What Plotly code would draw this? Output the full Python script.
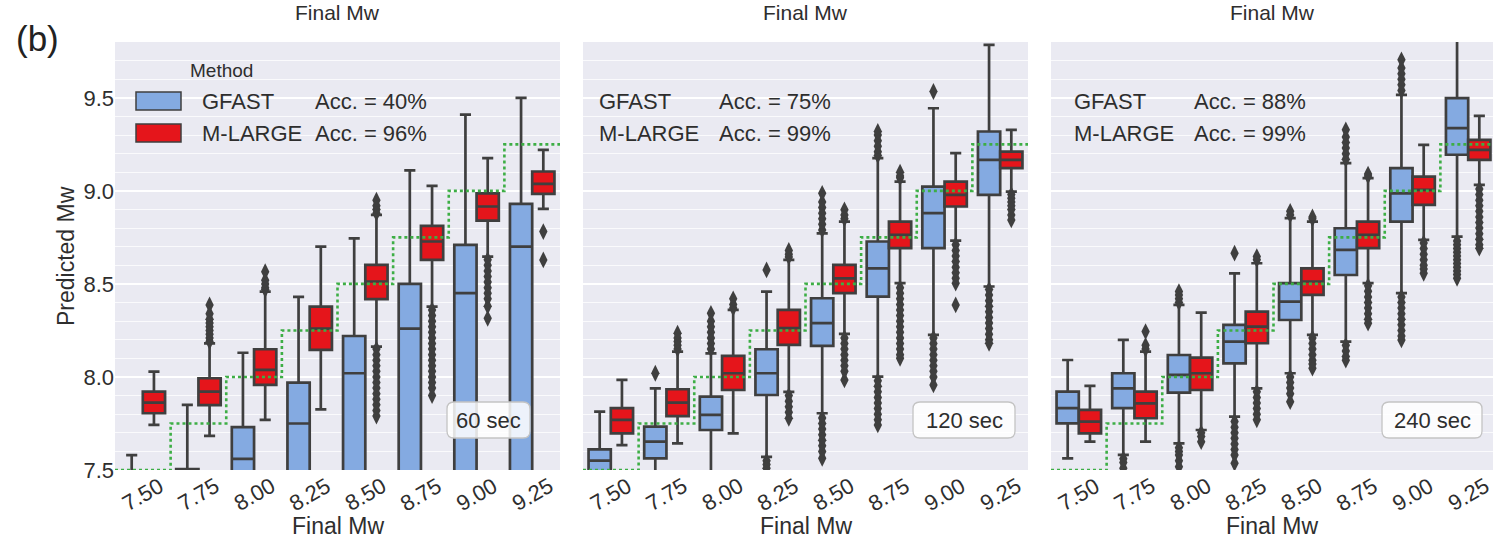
import plotly.graph_objects as go

# ---------------- data ----------------
categories = [7.50, 7.75, 8.00, 8.25, 8.50, 8.75, 9.00, 9.25]
tick_labels = ["7.50", "7.75", "8.00", "8.25", "8.50", "8.75", "9.00", "9.25"]
times = ["60 sec", "120 sec", "240 sec"]
gfast_acc = [40, 75, 88]
mlarge_acc = [96, 99, 99]

# ---- 60 sec ----
g60_q1 = [7.10, 7.20, 7.35, 7.35, 7.40, 7.45, 7.30, 7.40]
g60_med = [7.25, 7.35, 7.56, 7.75, 8.02, 8.26, 8.45, 8.70]
g60_q3 = [7.40, 7.505, 7.73, 7.97, 8.22, 8.50, 8.71, 8.93]
g60_lo = [6.90, 6.90, 7.00, 7.00, 7.00, 7.00, 7.00, 7.20]
g60_hi = [7.58, 7.85, 8.13, 8.43, 8.745, 9.11, 9.41, 9.50]
g60_fl = [[], [], [], [], [], [], [], []]

m60_q1 = [7.805, 7.849, 7.957, 8.145, 8.418, 8.629, 8.84, 8.984]
m60_med = [7.862, 7.921, 8.038, 8.26, 8.513, 8.728, 8.916, 9.038]
m60_q3 = [7.921, 7.993, 8.149, 8.378, 8.602, 8.812, 8.987, 9.104]
m60_lo = [7.742, 7.683, 7.769, 7.826, 8.163, 8.378, 8.647, 8.903]
m60_hi = [8.029, 8.18, 8.459, 8.70, 8.871, 9.027, 9.176, 9.22]
m60_fl = [
    [],
    [8.19, 8.21, 8.23, 8.25, 8.27, 8.29, 8.31, 8.34, 8.387],
    [8.47, 8.48, 8.50, 8.52, 8.566],
    [],
    [8.88, 8.90, 8.92, 8.95, 8.15, 8.12, 8.09, 8.06, 8.03, 8.00, 7.97,
     7.94, 7.91, 7.88, 7.85, 7.82, 7.79],
    [8.36, 8.33, 8.30, 8.27, 8.24, 8.21, 8.18, 8.15, 8.12, 8.09, 8.06,
     8.03, 8.00, 7.97, 7.94, 7.90],
    [8.63, 8.60, 8.57, 8.54, 8.51, 8.48, 8.45, 8.42, 8.38, 8.315],
    [8.781, 8.629],
]

# ---- 120 sec ----
g120_q1 = [7.45, 7.563, 7.715, 7.903, 8.167, 8.432, 8.692, 8.978]
g120_med = [7.55, 7.652, 7.796, 8.02, 8.289, 8.584, 8.88, 9.167]
g120_q3 = [7.611, 7.733, 7.894, 8.149, 8.423, 8.728, 9.023, 9.319]
g120_lo = [7.20, 7.30, 7.40, 7.57, 7.805, 8.002, 8.226, 8.486]
g120_hi = [7.814, 7.939, 8.127, 8.459, 8.772, 9.176, 9.444, 9.785]
g120_fl = [
    [],
    [8.02],
    [8.15, 8.18, 8.21, 8.24, 8.27, 8.30, 8.342],
    [8.575, 7.55, 7.53, 7.51],
    [8.79, 8.82, 8.85, 8.88, 8.91, 8.94, 8.987, 7.78, 7.75, 7.72, 7.69,
     7.66, 7.63, 7.60, 7.563],
    [9.19, 9.21, 9.24, 9.27, 9.30, 9.319, 7.98, 7.95, 7.92, 7.89, 7.86,
     7.83, 7.80, 7.77, 7.742],
    [9.534, 8.21, 8.18, 8.15, 8.12, 8.09, 8.06, 8.03, 8.00, 7.957],
    [8.47, 8.44, 8.41, 8.38, 8.35, 8.32, 8.29, 8.26, 8.23, 8.20, 8.181],
]

m120_q1 = [7.697, 7.79, 7.93, 8.172, 8.45, 8.692, 8.916, 9.122]
m120_med = [7.769, 7.862, 8.02, 8.262, 8.53, 8.763, 8.978, 9.167]
m120_q3 = [7.832, 7.934, 8.113, 8.36, 8.602, 8.835, 9.05, 9.211]
m120_lo = [7.634, 7.643, 7.697, 7.92, 8.231, 8.504, 8.733, 8.996]
m120_hi = [7.984, 8.136, 8.36, 8.629, 8.835, 9.05, 9.203, 9.328]
m120_fl = [
    [],
    [8.15, 8.17, 8.19, 8.21, 8.235],
    [8.37, 8.39, 8.42],
    [8.645, 8.66, 8.68, 7.90, 7.87, 7.84, 7.81, 7.778],
    [8.85, 8.87, 8.898, 8.21, 8.18, 8.15, 8.12, 8.09, 8.06, 8.03, 7.984],
    [9.07, 9.08, 9.10, 8.48, 8.45, 8.42, 8.39, 8.36, 8.33, 8.30, 8.27,
     8.24, 8.21, 8.18, 8.15, 8.12, 8.10],
    [8.71, 8.68, 8.65, 8.62, 8.59, 8.56, 8.53, 8.504, 8.387],
    [8.98, 8.96, 8.94, 8.92, 8.90, 8.87, 8.844],
]

# ---- 240 sec ----
g240_q1 = [7.751, 7.832, 7.916, 8.073, 8.306, 8.548, 8.835, 9.194]
g240_med = [7.832, 7.939, 8.011, 8.19, 8.405, 8.683, 8.987, 9.337]
g240_q3 = [7.921, 8.02, 8.118, 8.28, 8.504, 8.799, 9.122, 9.498]
g240_lo = [7.563, 7.581, 7.643, 7.787, 8.02, 8.19, 8.45, 8.754]
g240_hi = [8.091, 8.199, 8.387, 8.557, 8.853, 9.149, 9.516, 9.85]
g240_fl = [
    [],
    [7.56, 7.54, 7.51],
    [8.40, 8.42, 8.44, 8.459, 7.62, 7.60, 7.58, 7.55, 7.518],
    [8.665, 7.76, 7.73, 7.70, 7.67, 7.64, 7.61, 7.58, 7.536],
    [8.87, 8.89, 8.00, 7.97, 7.94, 7.91, 7.867],
    [9.17, 9.20, 9.23, 9.26, 9.29, 9.328, 8.17, 8.14, 8.11, 8.09],
    [9.54, 9.57, 9.60, 9.63, 9.66, 9.704, 8.43, 8.40, 8.37, 8.34, 8.31,
     8.28, 8.25, 8.22, 8.199],
    [8.73, 8.71, 8.69, 8.67, 8.65, 8.63, 8.61, 8.59, 8.57, 8.55, 8.53],
]

m240_q1 = [7.697, 7.778, 7.93, 8.181, 8.441, 8.692, 8.925, 9.167]
m240_med = [7.76, 7.858, 8.02, 8.27, 8.513, 8.763, 9.005, 9.22]
m240_q3 = [7.823, 7.921, 8.104, 8.351, 8.584, 8.835, 9.077, 9.274]
m240_lo = [7.652, 7.652, 7.715, 7.939, 8.226, 8.504, 8.737, 9.032]
m240_hi = [7.952, 8.136, 8.346, 8.611, 8.835, 9.068, 9.247, 9.403]
m240_fl = [
    [],
    [8.15, 8.17, 8.244],
    [7.70, 7.68, 7.652],
    [8.63, 8.647, 7.92, 7.89, 7.86, 7.83, 7.80, 7.77],
    [8.85, 8.86, 8.21, 8.18, 8.15, 8.12, 8.09, 8.07, 8.047],
    [9.08, 9.09, 8.49, 8.46, 8.43, 8.40, 8.37, 8.34, 8.31, 8.289],
    [8.72, 8.69, 8.66, 8.63, 8.60, 8.58, 8.557],
    [9.01, 8.98, 8.95, 8.92, 8.89, 8.86, 8.83, 8.80, 8.77, 8.74, 8.71, 8.692],
]

# ---------------- styling ----------------
W, H = 1493, 544
BLUE = "#84AAE1"
RED = "#E5151B"
EDGE = "#3F3F3F"
BG = "#EAEAF2"
GREEN = "#3DAE45"
FONT = "Liberation Sans, Arial, sans-serif"
TXT = "#2E2E2E"

panels = [
    dict(g=(g60_q1, g60_med, g60_q3, g60_lo, g60_hi, g60_fl),
         m=(m60_q1, m60_med, m60_q3, m60_lo, m60_hi, m60_fl)),
    dict(g=(g120_q1, g120_med, g120_q3, g120_lo, g120_hi, g120_fl),
         m=(m120_q1, m120_med, m120_q3, m120_lo, m120_hi, m120_fl)),
    dict(g=(g240_q1, g240_med, g240_q3, g240_lo, g240_hi, g240_fl),
         m=(m240_q1, m240_med, m240_q3, m240_lo, m240_hi, m240_fl)),
]

# pixel layout of the three panels
panel_px = [(115, 560), (583, 1028), (1051, 1496)]
top_px, bot_px = 42, 470


def fx(x):
    return x / W


def fy(y):
    return 1 - y / H


def rounded_box(x0, y0, x1, y1, r):
    """SVG path (paper coords) of a rounded rectangle given in pixels."""
    pts = [
        ("M", x0 + r, y0), ("L", x1 - r, y0), ("Q", x1, y0, x1, y0 + r),
        ("L", x1, y1 - r), ("Q", x1, y1, x1 - r, y1), ("L", x0 + r, y1),
        ("Q", x0, y1, x0, y1 - r), ("L", x0, y0 + r), ("Q", x0, y0, x0 + r, y0),
    ]
    out = []
    for seg in pts:
        cmd, vals = seg[0], seg[1:]
        coords = []
        for k in range(0, len(vals), 2):
            coords.append(f"{fx(vals[k]):.6f},{fy(vals[k + 1]):.6f}")
        out.append(cmd + " ".join(coords))
    return " ".join(out) + " Z"


fig = go.Figure()
n = len(categories)
idx = list(range(n))

for p, pan in enumerate(panels):
    ax = "" if p == 0 else str(p + 1)
    for key, off, color in (("g", -0.2, BLUE), ("m", 0.2, RED)):
        q1, med, q3, lo, hi, fl = pan[key]
        xs = [i + off for i in idx]
        fig.add_trace(go.Box(
            x=xs, q1=q1, median=med, q3=q3, lowerfence=lo, upperfence=hi,
            width=0.4, fillcolor=color, line=dict(color=EDGE, width=2.7),
            whiskerwidth=0.5, boxpoints=False, showlegend=False,
            hoverinfo="skip", xaxis="x" + ax, yaxis="y" + ax,
        ))
        fx_pts, fy_pts = [], []
        for i, vals in enumerate(fl):
            for v in vals:
                fx_pts.append(i + off)
                fy_pts.append(v)
        fig.add_trace(go.Scatter(
            x=fx_pts, y=fy_pts, mode="markers",
            marker=dict(symbol="diamond-tall", size=12, color=EDGE,
                        line=dict(width=0)),
            showlegend=False, hoverinfo="skip",
            xaxis="x" + ax, yaxis="y" + ax,
        ))
    # true-value step line
    step_x = [i - 0.5 for i in range(n + 1)]
    step_y = categories + [categories[-1]]
    fig.add_trace(go.Scatter(
        x=step_x, y=step_y, mode="lines", line_shape="hv",
        line=dict(color=GREEN, dash="dot", width=2.6),
        showlegend=False, hoverinfo="skip",
        xaxis="x" + ax, yaxis="y" + ax,
    ))

layout = dict(
    width=W, height=H, margin=dict(l=0, r=0, t=0, b=0, autoexpand=False),
    paper_bgcolor="white", plot_bgcolor=BG, showlegend=False,
    font=dict(family=FONT, size=22, color=TXT),
)

annotations = []
shapes = []

cat_w = (560 - 115) / n
for p, (x0, x1) in enumerate(panel_px):
    ax = "" if p == 0 else str(p + 1)
    xr_hi = n - 0.5 - max(0, x1 - W) / cat_w
    d1 = min(x1, W)
    layout["xaxis" + ax] = dict(
        domain=[fx(x0), fx(d1)], range=[-0.5, xr_hi], automargin=False,
        anchor="y" + ax, tickmode="array", tickvals=idx,
        showticklabels=False, showgrid=False,
        zeroline=False, showline=False, ticks="",
    )
    layout["yaxis" + ax] = dict(
        domain=[fy(bot_px), fy(top_px)], range=[7.5, 9.8], automargin=False,
        anchor="x" + ax, dtick=0.5, tick0=7.5, tickformat=".1f",
        showticklabels=(p == 0), gridcolor="white", gridwidth=1.8,
        zeroline=False, showline=False, ticks="",
        tickfont=dict(size=22, color=TXT, family=FONT),
        minor=dict(dtick=0.1, showgrid=True,
                   gridcolor="rgba(255,255,255,0.75)", gridwidth=0.8),
    )
    # rotated category labels, centred under each category (matplotlib style)
    for i, lab in enumerate(tick_labels):
        annotations.append(dict(text=lab, x=i, xref="x" + ax, y=fy(494),
                                yref="paper", showarrow=False,
                                textangle=-30, xanchor="center",
                                yanchor="middle",
                                font=dict(size=22, color=TXT)))

# axis titles and upper titles (from the row above)
for p, (x0, x1) in enumerate(panel_px):
    cx = (x0 + x1) / 2 if p < 2 else (x0 + x1 - 3) / 2
    annotations.append(dict(text="Final Mw", x=fx(cx), y=fy(526),
                            xref="paper", yref="paper", showarrow=False,
                            xanchor="center", yanchor="middle",
                            font=dict(size=23, color=TXT)))
    annotations.append(dict(text="Final Mw", x=fx(cx), y=1.0,
                            xref="paper", yref="paper", showarrow=False,
                            xanchor="center", yanchor="top",
                            borderpad=0,
                            font=dict(size=21, color=TXT)))
annotations.append(dict(text="Predicted Mw", x=fx(66), y=fy(256),
                        xref="paper", yref="paper", showarrow=False,
                        textangle=-90, xanchor="center", yanchor="middle",
                        font=dict(size=23, color=TXT)))
annotations.append(dict(text="(b)", x=fx(37), y=fy(39), xref="paper",
                        yref="paper", showarrow=False, xanchor="center",
                        yanchor="middle", font=dict(size=35, color="#222")))

# legend (panel 1)
annotations.append(dict(text="Method", x=fx(221), y=fy(70), xref="paper",
                        yref="paper", showarrow=False, xanchor="center",
                        yanchor="middle", font=dict(size=19, color=TXT)))
for (yc, col) in ((101, BLUE), (133, RED)):
    shapes.append(dict(type="rect", xref="paper", yref="paper",
                       x0=fx(136), x1=fx(181), y0=fy(yc - 9), y1=fy(yc + 9),
                       fillcolor=col, line=dict(color=EDGE, width=1.5)))

name_x = [200, 597, 1072]
acc_x = [313, 717, 1192]
for p in range(3):
    for name, acc, yc in (("GFAST", gfast_acc[p], 101),
                          ("M-LARGE", mlarge_acc[p], 133)):
        annotations.append(dict(text=name, x=fx(name_x[p]), y=fy(yc),
                                xref="paper", yref="paper", showarrow=False,
                                xanchor="left", yanchor="middle",
                                font=dict(size=22, color=TXT)))
        annotations.append(dict(text=f"Acc. = {acc}%", x=fx(acc_x[p]),
                                y=fy(yc), xref="paper", yref="paper",
                                showarrow=False, xanchor="left",
                                yanchor="middle",
                                font=dict(size=22, color=TXT)))

# time labels in rounded boxes
time_box = [(447, 530), (913, 1015), (1382, 1482)]
for p in range(3):
    bx0, bx1 = time_box[p]
    shapes.append(dict(type="path", xref="paper", yref="paper",
                       path=rounded_box(bx0, 402, bx1, 438, 7),
                       fillcolor="rgba(255,255,255,0.85)",
                       line=dict(color="#C4C4C4", width=1.3)))
    annotations.append(dict(text=times[p], x=fx((bx0 + bx1) / 2), y=fy(420),
                            xref="paper", yref="paper", showarrow=False,
                            xanchor="center", yanchor="middle",
                            font=dict(size=22, color=TXT)))

layout["annotations"] = annotations
layout["shapes"] = shapes
fig.update_layout(**layout)
fig.write_html("out.html")
